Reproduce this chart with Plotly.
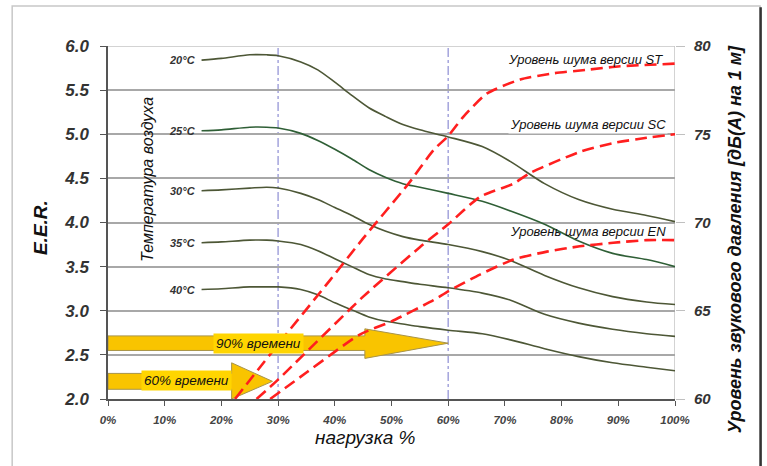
import plotly.graph_objects as go

# ---------------- data ----------------
load = [16.5, 20, 25, 28, 30, 34, 37, 40, 43, 46, 49, 52, 55, 60, 66, 71, 77, 83, 89, 95, 100]
temp_labels = ["20°C", "25°C", "30°C", "35°C", "40°C"]
eer_20 = [5.84, 5.86, 5.90, 5.90, 5.89, 5.82, 5.73, 5.59, 5.44, 5.30, 5.20, 5.11, 5.05, 4.97, 4.86, 4.69, 4.44, 4.26, 4.15, 4.08, 4.01]
eer_25 = [5.04, 5.05, 5.08, 5.08, 5.07, 5.01, 4.93, 4.83, 4.72, 4.60, 4.51, 4.44, 4.40, 4.33, 4.24, 4.13, 3.98, 3.79, 3.65, 3.58, 3.50]
eer_30 = [4.36, 4.37, 4.39, 4.40, 4.39, 4.33, 4.26, 4.17, 4.08, 3.98, 3.90, 3.84, 3.80, 3.75, 3.67, 3.57, 3.40, 3.26, 3.16, 3.10, 3.07]
eer_35 = [3.77, 3.78, 3.80, 3.80, 3.79, 3.75, 3.68, 3.59, 3.50, 3.41, 3.36, 3.33, 3.30, 3.26, 3.20, 3.12, 2.96, 2.86, 2.79, 2.74, 2.71]
eer_40 = [3.24, 3.25, 3.27, 3.27, 3.27, 3.24, 3.18, 3.09, 3.01, 2.93, 2.88, 2.85, 2.82, 2.78, 2.74, 2.67, 2.57, 2.48, 2.41, 2.36, 2.32]

noise_labels = ["Уровень шума версии ST", "Уровень шума версии SC", "Уровень шума версии EN"]
load_st = [22.4, 30, 39.2, 45, 53, 57.4, 60, 62.7, 66.8, 72.7, 78.5, 84.4, 90.3, 100]
db_st = [60, 63.1, 66.75, 69.1, 72.2, 74.1, 74.9, 76.0, 77.3, 78.1, 78.45, 78.65, 78.85, 79.0]
load_sc = [26.2, 30, 45, 55, 60, 65.6, 71.5, 74.4, 83.2, 89.1, 95, 100]
db_sc = [60, 61.1, 65.8, 68.6, 69.9, 71.45, 72.2, 72.8, 74.0, 74.5, 74.8, 75.0]
load_en = [28.6, 35, 44.4, 50, 57.4, 60, 65.6, 71.5, 77.4, 83.2, 89.1, 95, 100]
db_en = [60, 61.5, 63.65, 64.4, 65.6, 66.1, 67.05, 67.9, 68.35, 68.65, 68.85, 69.0, 69.0]

ref_loads = [30, 60]
time_labels = ["90% времени", "60% времени"]
arrow_tip_load = [60, 29]

x_ticks = [0, 10, 20, 30, 40, 50, 60, 70, 80, 90, 100]
x_ticktext = ["0%", "10%", "20%", "30%", "40%", "50%", "60%", "70%", "80%", "90%", "100%"]

# ---------------- styles ----------------
FONT = "Liberation Sans"
curve_colors = ["#4d5736", "#2f5f36", "#4d5736", "#4d5736", "#4d5736"]
RED = "#ff1f1f"
# arrow geometry (E.E.R. units): band_lo, band_hi, head_lo, head_hi, head_base_load
arrow_geom = [(2.55, 2.715, 2.46, 2.795, 45.3), (2.11, 2.29, 2.0, 2.41, 21.8)]
label_pos = [(26.5, 2.63), (13.9, 2.205)]
noise_label_pos = [(98.3, 5.85, None), (98.8, 5.105, "white"), (98.8, 3.90, None)]

fig = go.Figure()

eers = [eer_20, eer_25, eer_30, eer_35, eer_40]
for lab, vals, col in zip(temp_labels, eers, curve_colors):
    fig.add_trace(go.Scatter(x=load, y=vals, mode="lines", name=lab, yaxis="y",
                             line=dict(color=col, width=1.6, shape="spline", smoothing=0.8),
                             hoverinfo="skip", showlegend=False))

for lx, ly in [(load_st, db_st), (load_sc, db_sc), (load_en, db_en)]:
    fig.add_trace(go.Scatter(x=lx, y=ly, mode="lines", yaxis="y2",
                             line=dict(color=RED, width=2.6, dash="12px,6px", shape="spline", smoothing=0.6),
                             hoverinfo="skip", showlegend=False))

for tip, (blo, bhi, hlo, hhi, base) in zip(arrow_tip_load, arrow_geom):
    mid = (blo + bhi) / 2
    xs = [0, base, base, tip, base, base, 0, 0]
    ys = [blo, blo, hlo, mid, hhi, bhi, bhi, blo]
    fig.add_trace(go.Scatter(x=xs, y=ys, mode="lines", fill="toself", fillcolor="#f9c400",
                             line=dict(color="#a8944a", width=1), yaxis="y",
                             hoverinfo="skip", showlegend=False))

annotations = []
for lab, vals in zip(temp_labels, eers):
    annotations.append(dict(x=load[0], y=vals[0], xref="x", yref="y", text=lab, showarrow=False,
                            xanchor="right", xshift=-4,
                            font=dict(family=FONT, size=11, color="#333", weight="bold", style="italic")))
for lab, (px, py) in zip(time_labels, label_pos):
    annotations.append(dict(x=px, y=py, xref="x", yref="y", text=lab, showarrow=False,
                            bgcolor="#ffd500", borderpad=2,
                            font=dict(family=FONT, size=13.5, color="#111", style="italic")))
for lab, (px, py, bg) in zip(noise_labels, noise_label_pos):
    annotations.append(dict(x=px, y=py, xref="x", yref="y", text=lab, showarrow=False,
                            xanchor="right", bgcolor=bg if bg else "rgba(0,0,0,0)", borderpad=1,
                            font=dict(family=FONT, size=13, color="#111", style="italic")))
annotations.append(dict(x=7.0, y=4.49, xref="x", yref="y", text="Температура воздуха", showarrow=False,
                        textangle=-90, xanchor="center", yanchor="middle",
                        font=dict(family=FONT, size=16, color="#111", style="italic")))
annotations.append(dict(x=-0.12, y=0.487, xref="paper", yref="paper", text="E.E.R.", showarrow=False,
                        textangle=-90, xanchor="center", yanchor="middle",
                        font=dict(family=FONT, size=19, color="#111", weight="bold", style="italic")))
annotations.append(dict(x=1.106, y=0.453, xref="paper", yref="paper",
                        text="Уровень звукового давления [дБ(А) на 1 м]", showarrow=False,
                        textangle=-90, xanchor="center", yanchor="middle",
                        font=dict(family=FONT, size=18, color="#111", weight="bold", style="italic")))
annotations.append(dict(x=0.453, y=-0.108, xref="paper", yref="paper", text="нагрузка %", showarrow=False,
                        xanchor="center", yanchor="middle",
                        font=dict(family=FONT, size=19, color="#111", style="italic")))

shapes = []
for rl in ref_loads:
    shapes.append(dict(type="line", xref="x", yref="y", x0=rl, x1=rl, y0=2, y1=6, layer="below",
                       line=dict(color="#a4a4dc", width=1.5, dash="dashdot")))
shapes.append(dict(type="line", xref="x", yref="y", x0=0, x1=100, y0=6, y1=6, layer="below",
                   line=dict(color="#c4c4c4", width=1.5)))
shapes.append(dict(type="line", xref="x", yref="y", x0=100, x1=100, y0=2, y1=6, layer="below",
                   line=dict(color="#c4c4c4", width=1.5)))
# outer frame
shapes.append(dict(type="rect", xref="paper", yref="paper", x0=-0.169, x1=1.15, y0=-0.4, y1=1.113,
                   line=dict(color="#c8c8c8", width=1.5)))
shapes.append(dict(type="line", xref="paper", yref="paper", x0=1.151, x1=1.151, y0=-0.4, y1=1.11,
                   line=dict(color="#333", width=2.5)))

fig.update_layout(
    width=767, height=466,
    margin=dict(l=108, r=92, t=46, b=67),
    paper_bgcolor="white", plot_bgcolor="white",
    showlegend=False,
    xaxis=dict(range=[0, 100], tickvals=x_ticks, ticktext=x_ticktext, showgrid=False, zeroline=False,
               showline=True, linecolor="#555", linewidth=1.5, ticks="outside", ticklen=5, tickcolor="#555",
               ticklabelstandoff=4,
               tickfont=dict(family=FONT, size=11.5, color="#444", weight="bold", style="italic")),
    yaxis=dict(range=[2, 6], dtick=0.5, tickformat=".1f", showgrid=True, gridcolor="#a8a8a8", gridwidth=1.6,
               zeroline=False, showline=True, linecolor="#555", linewidth=1.5, ticks="outside", ticklen=6,
               tickcolor="#555", ticklabelstandoff=8,
               tickfont=dict(family=FONT, size=17, color="#333", weight="bold", style="italic")),
    yaxis2=dict(range=[60, 80], dtick=5, overlaying="y", side="right", showgrid=False, zeroline=False,
                showline=False, ticks="outside", ticklen=9, tickcolor="#c0c0c0", ticklabelstandoff=6,
                tickfont=dict(family=FONT, size=15, color="#333", weight="bold", style="italic")),
    annotations=annotations,
    shapes=shapes,
)

fig.write_html("out.html")
